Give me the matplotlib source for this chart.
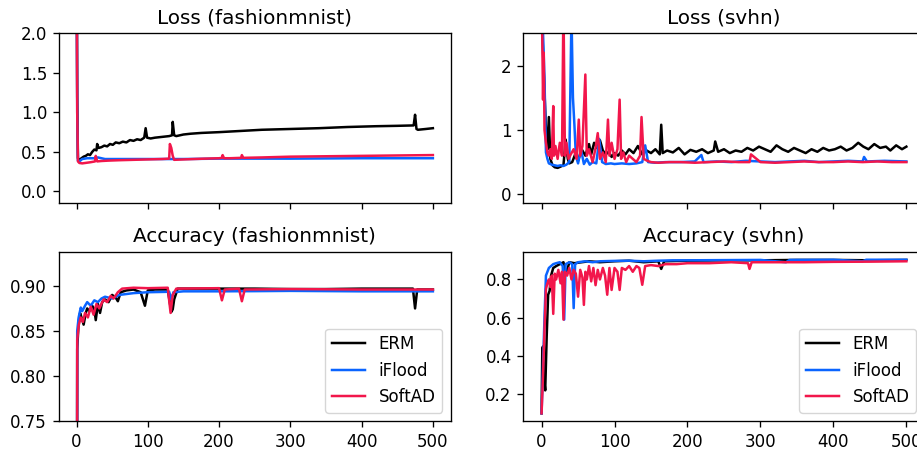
import matplotlib
matplotlib.use("Agg")
import matplotlib.pyplot as plt

# colours per method
C_ERM = "black"
C_IFLOOD = "#0a64ff"
C_SOFTAD = "#f2164b"

methods = ["ERM", "iFlood", "SoftAD"]

# ---- Loss (fashionmnist) ----
fm_loss_erm_x = [0, 1, 2, 4, 7, 10, 13, 16, 19, 22, 25, 28, 29, 31, 35, 39, 43, 47, 51, 55,
                 60, 65, 70, 75, 80, 85, 90, 95, 97, 99, 104, 110, 120, 130, 134, 135, 137, 140, 150, 160,
                 175, 200, 230, 260, 300, 340, 380, 420, 450, 473, 475, 477, 479, 490, 500]
fm_loss_erm_y = [3.5, 1.2, 0.42, 0.40, 0.42, 0.44, 0.45, 0.47, 0.46, 0.50, 0.53, 0.52, 0.60, 0.55, 0.56, 0.58, 0.57, 0.60, 0.59, 0.62,
                 0.61, 0.63, 0.62, 0.65, 0.64, 0.66, 0.65, 0.68, 0.80, 0.68, 0.67, 0.68, 0.69, 0.70, 0.71, 0.88, 0.71, 0.70, 0.72, 0.73,
                 0.74, 0.75, 0.765, 0.78, 0.79, 0.80, 0.815, 0.825, 0.83, 0.835, 0.97, 0.79, 0.78, 0.79, 0.80]
fm_loss_ifl_x = [0, 1, 2, 4, 8, 15, 25, 30, 40, 60, 100, 150, 200, 300, 400, 500]
fm_loss_ifl_y = [3.5, 1.0, 0.39, 0.38, 0.41, 0.42, 0.42, 0.43, 0.41, 0.41, 0.41, 0.41, 0.415, 0.415, 0.42, 0.42]
fm_loss_soft_x = [0, 1, 2, 4, 8, 12, 16, 20, 26, 27, 29, 35, 45, 60, 80, 100, 120, 130, 131, 133,
                  135, 137, 150, 180, 200, 204, 205, 207, 215, 231, 232, 234, 260, 300, 350, 400, 450, 500]
fm_loss_soft_y = [3.5, 1.0, 0.38, 0.36, 0.355, 0.36, 0.365, 0.37, 0.38, 0.45, 0.38, 0.385, 0.39, 0.395, 0.40, 0.405, 0.41, 0.415, 0.60, 0.55,
                  0.45, 0.40, 0.405, 0.415, 0.42, 0.425, 0.46, 0.42, 0.42, 0.425, 0.46, 0.425, 0.43, 0.44, 0.445, 0.45, 0.455, 0.46]

# ---- Loss (svhn) ----
sv_loss_erm_x = [0, 2, 4, 6, 8, 10, 12, 15, 18, 22, 26, 30, 33, 36, 38, 42, 46, 50, 55, 60,
                 65, 68, 72, 76, 80, 84, 88, 92, 96, 100, 105, 110, 115, 120, 126, 132, 138, 144, 150, 156,
                 162, 164, 166, 172, 180, 188, 196, 204, 212, 220, 228, 236, 238, 242, 250, 258, 266, 274, 282, 290,
                 298, 306, 314, 322, 330, 338, 346, 354, 362, 370, 378, 386, 394, 402, 410, 418, 426, 434, 441, 448,
                 456, 464, 472, 478, 486, 494, 500]
sv_loss_erm_y = [3.0, 2.2, 1.6, 1.0, 0.7, 1.2, 0.55, 0.45, 0.42, 0.41, 0.43, 0.45, 0.85, 0.55, 0.48, 0.50, 0.62, 0.52, 0.70, 0.60,
                 0.78, 0.62, 0.80, 0.72, 0.84, 0.68, 0.62, 0.66, 0.58, 0.64, 0.60, 0.68, 0.62, 0.70, 0.64, 0.75, 0.62, 0.68, 0.64, 0.70,
                 0.62, 1.08, 0.64, 0.68, 0.65, 0.72, 0.62, 0.69, 0.66, 0.70, 0.64, 0.68, 0.82, 0.66, 0.70, 0.64, 0.68, 0.66, 0.72, 0.68,
                 0.74, 0.70, 0.66, 0.76, 0.70, 0.66, 0.72, 0.68, 0.64, 0.70, 0.66, 0.72, 0.68, 0.70, 0.74, 0.68, 0.72, 0.80, 0.74, 0.70,
                 0.78, 0.72, 0.74, 0.68, 0.76, 0.70, 0.74]
sv_loss_ifl_x = [0, 2, 4, 6, 8, 10, 14, 18, 22, 26, 30, 34, 38, 41, 43, 45, 47, 50, 54, 58,
                 62, 66, 70, 75, 79, 83, 88, 95, 100, 110, 120, 130, 138, 142, 146, 155, 170, 190, 210, 219,
                 222, 240, 260, 280, 300, 320, 340, 360, 380, 400, 420, 440, 442, 446, 470, 500]
sv_loss_ifl_y = [3.0, 2.5, 1.8, 0.65, 0.55, 0.48, 0.46, 0.45, 0.44, 0.45, 0.44, 0.46, 0.50, 2.8, 1.5, 1.08, 0.60, 0.48, 0.70, 0.47,
                 0.55, 0.46, 0.50, 0.48, 0.86, 0.50, 0.47, 0.48, 0.47, 0.48, 0.47, 0.48, 0.50, 0.76, 0.50, 0.49, 0.50, 0.50, 0.51, 0.61,
                 0.50, 0.51, 0.50, 0.52, 0.51, 0.50, 0.51, 0.52, 0.50, 0.51, 0.52, 0.51, 0.58, 0.51, 0.52, 0.51]
sv_loss_soft_x = [0, 1, 2, 3, 4, 6, 8, 10, 12, 14, 16, 17, 19, 22, 25, 28, 30, 32, 34, 37,
                  40, 44, 48, 51, 53, 56, 60, 62, 65, 70, 74, 77, 80, 84, 88, 91, 93, 96, 100, 104,
                  107, 109, 112, 116, 120, 125, 130, 135, 137, 140, 145, 150, 160, 175, 190, 210, 230, 250, 270, 285,
                  287, 300, 320, 340, 360, 380, 400, 420, 440, 460, 480, 500]
sv_loss_soft_y = [3.0, 2.4, 1.47, 2.2, 1.0, 0.8, 0.65, 0.6, 0.7, 0.55, 1.37, 0.6, 0.75, 0.55, 0.8, 0.6, 3.0, 0.6, 0.8, 0.55,
                  0.62, 0.7, 0.55, 1.16, 0.6, 0.75, 1.86, 0.6, 0.7, 0.5, 0.72, 0.95, 0.55, 0.65, 0.5, 1.16, 0.6, 0.80, 0.55, 0.70,
                  1.47, 0.55, 0.65, 0.50, 0.60, 0.55, 0.50, 0.60, 1.20, 0.55, 0.52, 0.50, 0.49, 0.50, 0.50, 0.49, 0.50, 0.51, 0.50, 0.50,
                  0.62, 0.50, 0.49, 0.50, 0.51, 0.50, 0.50, 0.51, 0.50, 0.51, 0.50, 0.50]

# ---- Accuracy (fashionmnist) ----
fm_acc_erm_x = [0, 1, 3, 5, 7, 10, 13, 15, 18, 22, 25, 27, 30, 33, 36, 40, 45, 50, 55, 58,
                62, 70, 80, 90, 96, 100, 110, 120, 128, 133, 135, 137, 142, 150, 200, 250, 300, 350, 400, 450,
                472, 475, 478, 500]
fm_acc_erm_y = [0.1, 0.83, 0.86, 0.87, 0.865, 0.857, 0.87, 0.875, 0.872, 0.878, 0.874, 0.862, 0.88, 0.87, 0.882, 0.885, 0.882, 0.89, 0.887, 0.883,
                0.893, 0.895, 0.896, 0.893, 0.878, 0.895, 0.896, 0.896, 0.896, 0.871, 0.874, 0.885, 0.897, 0.897, 0.897, 0.897, 0.8965, 0.8965, 0.897, 0.897,
                0.897, 0.875, 0.896, 0.896]
fm_acc_ifl_x = [0, 1, 3, 6, 8, 12, 15, 20, 25, 30, 35, 40, 50, 60, 70, 80, 100, 130, 133, 136,
                150, 200, 250, 300, 400, 500]
fm_acc_ifl_y = [0.1, 0.85, 0.865, 0.876, 0.872, 0.878, 0.882, 0.878, 0.884, 0.882, 0.886, 0.888, 0.886, 0.89, 0.891, 0.892, 0.893, 0.8935, 0.885, 0.893,
                0.894, 0.894, 0.8942, 0.8945, 0.894, 0.894]
fm_acc_soft_x = [0, 1, 3, 6, 9, 12, 16, 20, 24, 28, 32, 38, 43, 48, 52, 58, 64, 80, 100, 128,
                 132, 135, 140, 200, 204, 208, 228, 232, 236, 300, 400, 500]
fm_acc_soft_y = [0.1, 0.84, 0.856, 0.865, 0.86, 0.87, 0.865, 0.877, 0.868, 0.88, 0.875, 0.885, 0.882, 0.889, 0.886, 0.893, 0.897, 0.898, 0.8975, 0.898,
                 0.870, 0.890, 0.897, 0.8975, 0.884, 0.896, 0.897, 0.883, 0.896, 0.8965, 0.896, 0.896]

# ---- Accuracy (svhn) ----
sv_acc_erm_x = [0, 1, 2, 3, 5, 7, 9, 11, 13, 16, 20, 25, 30, 34, 38, 45, 55, 65, 80, 100,
                120, 140, 160, 164, 168, 200, 250, 300, 350, 400, 450, 500]
sv_acc_erm_y = [0.1, 0.44, 0.45, 0.30, 0.22, 0.50, 0.72, 0.74, 0.82, 0.86, 0.87, 0.88, 0.89, 0.83, 0.89, 0.885, 0.89, 0.895, 0.89, 0.895,
                0.898, 0.89, 0.895, 0.855, 0.895, 0.898, 0.90, 0.90, 0.902, 0.902, 0.90, 0.902]
sv_acc_ifl_x = [0, 2, 4, 6, 8, 10, 13, 16, 20, 25, 29, 31, 33, 38, 42, 44, 46, 50, 60, 70,
                80, 90, 100, 120, 140, 160, 180, 200, 250, 300, 335, 340, 400, 440, 445, 500]
sv_acc_ifl_y = [0.1, 0.35, 0.60, 0.82, 0.84, 0.86, 0.87, 0.88, 0.885, 0.89, 0.87, 0.59, 0.88, 0.89, 0.88, 0.65, 0.88, 0.89, 0.895, 0.89,
                0.895, 0.896, 0.897, 0.898, 0.895, 0.898, 0.90, 0.90, 0.901, 0.902, 0.89, 0.902, 0.903, 0.895, 0.903, 0.903]
sv_acc_soft_x = [0, 2, 4, 6, 8, 10, 12, 14, 16, 18, 20, 23, 26, 28, 30, 32, 35, 38, 41, 44,
                 47, 50, 53, 56, 58, 60, 62, 65, 68, 71, 74, 77, 80, 84, 87, 90, 93, 96, 100, 104,
                 107, 110, 115, 120, 125, 130, 134, 138, 142, 150, 160, 170, 185, 200, 230, 260, 283, 285, 288, 320,
                 360, 400, 450, 500]
sv_acc_soft_y = [0.1, 0.3, 0.53, 0.75, 0.78, 0.8, 0.76, 0.82, 0.62, 0.83, 0.80, 0.85, 0.78, 0.84, 0.59, 0.84, 0.82, 0.86, 0.80, 0.85,
                 0.83, 0.71, 0.85, 0.81, 0.667, 0.84, 0.80, 0.87, 0.79, 0.86, 0.77, 0.85, 0.80, 0.86, 0.82, 0.72, 0.86, 0.745, 0.86, 0.84,
                 0.745, 0.86, 0.85, 0.87, 0.84, 0.87, 0.86, 0.772, 0.87, 0.875, 0.87, 0.88, 0.88, 0.885, 0.885, 0.89, 0.885, 0.855, 0.89, 0.89,
                 0.89, 0.892, 0.893, 0.895]

panels = [
    ("Loss (fashionmnist)", [(fm_loss_erm_x, fm_loss_erm_y), (fm_loss_ifl_x, fm_loss_ifl_y), (fm_loss_soft_x, fm_loss_soft_y)],
     (-0.15, 2.0), [0.0, 0.5, 1.0, 1.5, 2.0]),
    ("Loss (svhn)", [(sv_loss_erm_x, sv_loss_erm_y), (sv_loss_ifl_x, sv_loss_ifl_y), (sv_loss_soft_x, sv_loss_soft_y)],
     (-0.14, 2.5), [0, 1, 2]),
    ("Accuracy (fashionmnist)", [(fm_acc_erm_x, fm_acc_erm_y), (fm_acc_ifl_x, fm_acc_ifl_y), (fm_acc_soft_x, fm_acc_soft_y)],
     (0.75, 0.938), [0.75, 0.80, 0.85, 0.90]),
    ("Accuracy (svhn)", [(sv_acc_erm_x, sv_acc_erm_y), (sv_acc_ifl_x, sv_acc_ifl_y), (sv_acc_soft_x, sv_acc_soft_y)],
     (0.06, 0.945), [0.2, 0.4, 0.6, 0.8]),
]

# axes boxes in figure fractions (left, bottom, width, height)
boxes = [
    (0.0640, 0.5472, 0.4275, 0.3786),
    (0.5707, 0.5472, 0.4376, 0.3786),
    (0.0640, 0.0624, 0.4275, 0.3770),
    (0.5707, 0.0624, 0.4376, 0.3770),
]
colors = [C_ERM, C_IFLOOD, C_SOFTAD]

# the reference looks like a 1.2x scaled default style
S = 1.2
plt.rcParams.update({
    "xtick.major.size": 3.5 * S, "ytick.major.size": 3.5 * S,
    "xtick.major.width": 0.8 * S, "ytick.major.width": 0.8 * S,
    "axes.linewidth": 0.8 * S,
    "legend.fontsize": 10 * S,
})

fig = plt.figure(figsize=(9.17, 4.49), dpi=100)
for i, ((title, series, ylim, yticks), box) in enumerate(zip(panels, boxes)):
    ax = fig.add_axes(box)
    for (xs, ys), col, name in zip(series, colors, methods):
        ax.plot(xs, ys, color=col, lw=1.5 * S, label=name)
    ax.set_title(title, fontsize=12 * S, pad=6 * S)
    ax.set_xlim(-25, 525)
    ax.set_xticks([0, 100, 200, 300, 400, 500])
    ax.set_ylim(*ylim)
    ax.set_yticks(yticks)
    ax.tick_params(labelsize=10 * S, pad=3.5 * S)
    if i < 2:
        ax.tick_params(labelbottom=False)
    else:
        ax.legend(loc="lower right")

fig.savefig("out.png", dpi=100)
